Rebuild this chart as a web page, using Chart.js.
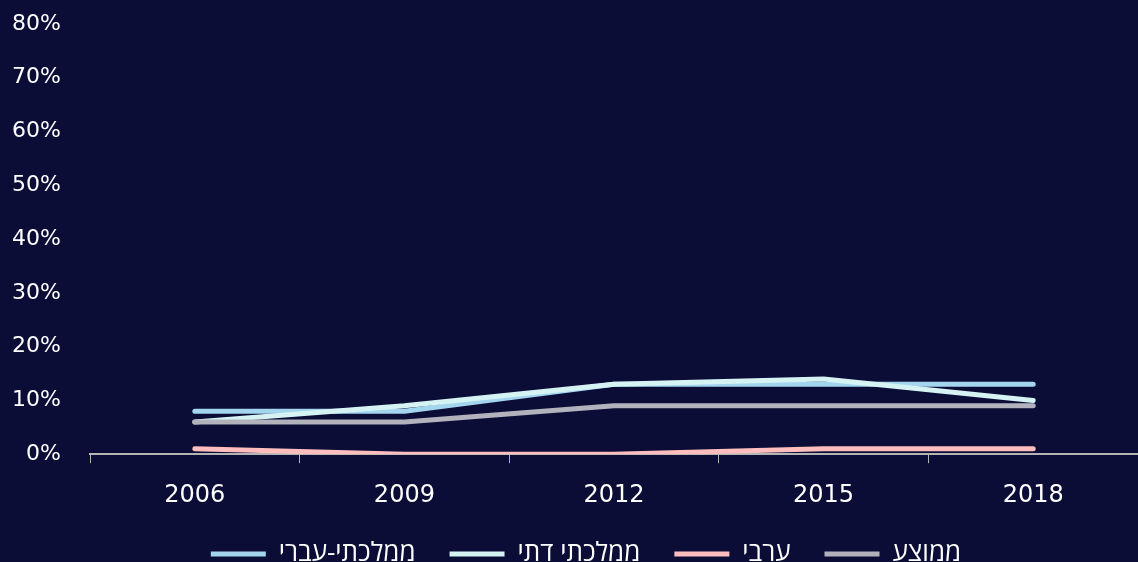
<!DOCTYPE html>
<html><head><meta charset="utf-8">
<script src="https://cdn.jsdelivr.net/npm/chart.js@4"></script>
<style>
html,body{margin:0;padding:0;background:#0b0d36;}
#wrap{width:1138px;height:562px;}
</style></head>
<body><div id="wrap"><canvas id="c" width="1138" height="562"></canvas></div>
<script>
const categories = ['2006','2009','2012','2015','2018'];
const seriesNames = ['ממלכתי-עברי','ממלכתי דתי','ערבי','ממוצע'];
const stateHebrew = [8, 8, 13, 13, 13];
const stateReligious = [6, 9, 13, 14, 10];
const arab = [1, 0, 0, 1, 1];
const average = [6, 6, 9, 9, 9];
const yTicks = [0,10,20,30,40,50,60,70,80];

const colors = ['#a3d5ef','#d5f3f3','#ffbdbd','#b2b2bd'];
const values = [stateHebrew, stateReligious, arab, average];
const orders = [4,3,2,1];
const FONT = "'DejaVu Sans', sans-serif";
const HEB_FONT = "'Open Sans', sans-serif";
const LEGEND_H = 34;
const LEGEND_SHIFT_Y = -21;
const LEGEND_SHIFT_X = 17;

const legendLayoutPlugin = {
  id: 'legendLayout',
  afterInit(chart) {
    const lg = chart.legend;
    if (!lg) return;
    const orig = lg.fit.bind(lg);
    lg.fit = function() { orig(); this.height = LEGEND_H; };
  },
  afterLayout(chart) {
    const lg = chart.legend;
    if (!lg) return;
    lg.top += LEGEND_SHIFT_Y;
    lg.bottom = chart.height;
    lg.height = lg.bottom - lg.top;
    lg.left += LEGEND_SHIFT_X; lg.right += LEGEND_SHIFT_X;
  }
};

new Chart(document.getElementById('c'), {
  type: 'line',
  data: {
    labels: categories,
    datasets: values.map((v,i)=>({
      label: seriesNames[i],
      data: v,
      borderColor: colors[i],
      backgroundColor: colors[i],
      borderWidth: 5,
      borderCapStyle: 'round',
      borderJoinStyle: 'round',
      pointRadius: 0,
      tension: 0,
      order: orders[i]
    }))
  },
  plugins: [legendLayoutPlugin],
  options: {
    responsive: false,
    animation: false,
    layout: { padding: { top: 24, right: 0, left: 0, bottom: 0 } },
    plugins: {
      tooltip: { enabled: false },
      legend: {
        position: 'bottom',
        labels: {
          color: '#ffffff',
          font: { family: HEB_FONT, size: 26 },
          usePointStyle: true,
          pointStyleWidth: 55,
          pointStyle: 'line',
          padding: 34,
          sort: (a,b)=>a.datasetIndex-b.datasetIndex
        }
      }
    },
    scales: {
      x: {
        offset: true,
        grid: { display: true, drawOnChartArea: false, drawTicks: true, tickLength: 9, color: '#b4b4b4', offset: true },
        border: { display: true, color: '#b4b4b4', width: 2 },
        ticks: { color: '#ffffff', font: { family: FONT, size: 24 }, padding: 18 }
      },
      y: {
        min: 0, max: 80,
        afterBuildTicks: (s)=>{ s.ticks = yTicks.map(v=>({value:v})); },
        afterFit: (s)=>{ s.width = 90; },
        grid: { display: false, drawTicks: true, tickLength: 26 },
        border: { display: false },
        ticks: { color: '#ffffff', font: { family: FONT, size: 22 }, padding: 3, callback: v=>v+'%' }
      }
    }
  }
});
</script></body></html>
